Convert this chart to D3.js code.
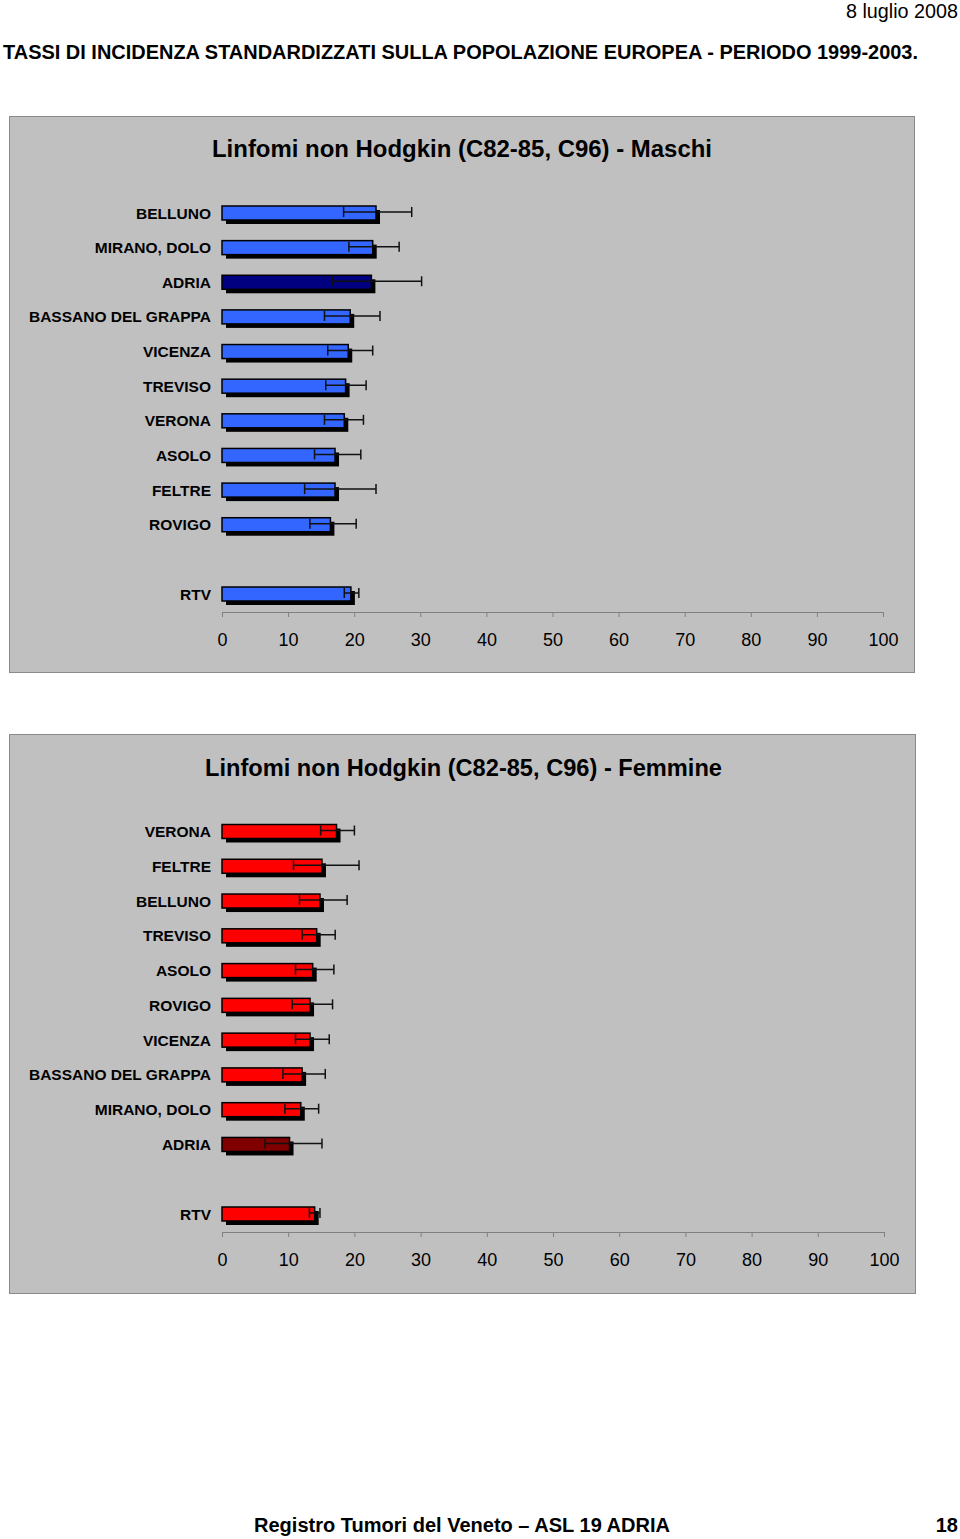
<!DOCTYPE html>
<html><head><meta charset="utf-8">
<script src="https://cdn.jsdelivr.net/npm/d3@7/dist/d3.min.js"></script>
<style>body{margin:0;background:#fff}svg{display:block}</style>
</head><body>
<script>
// ---- data ----
const maleCats = ["BELLUNO","MIRANO, DOLO","ADRIA","BASSANO DEL GRAPPA","VICENZA","TREVISO","VERONA","ASOLO","FELTRE","ROVIGO","RTV"];
const maleVals = [23.3,22.8,22.6,19.4,19.1,18.7,18.5,17.1,17.1,16.4,19.5];
const maleLow  = [18.4,19.2,16.7,15.5,16.0,15.7,15.5,14.0,12.5,13.3,18.5];
const maleHigh = [28.7,26.8,30.2,23.9,22.8,21.8,21.4,21.0,23.3,20.3,20.7];

const femCats = ["VERONA","FELTRE","BELLUNO","TREVISO","ASOLO","ROVIGO","VICENZA","BASSANO DEL GRAPPA","MIRANO, DOLO","ADRIA","RTV"];
const femVals = [17.3,15.1,14.8,14.3,13.7,13.3,13.3,12.1,11.9,10.2,14.0];
const femLow  = [14.9,10.8,11.7,12.1,11.1,10.6,11.1,9.2,9.5,6.5,13.2];
const femHigh = [20.0,20.7,18.9,17.1,16.9,16.7,16.2,15.6,14.6,15.1,14.8];

const tickValues = [0,10,20,30,40,50,60,70,80,90,100];
const highlight = "ADRIA";

const W = 960, H = 1539;
const svg = d3.select("body").append("svg").attr("width", W).attr("height", H)
  .style("font-family", "'Liberation Sans', Arial, sans-serif");

// page header
svg.append("text").attr("x", 958).attr("y", 18).attr("text-anchor", "end")
  .attr("font-size", 19.5).attr("textLength", 112).attr("lengthAdjust", "spacingAndGlyphs")
  .text("8 luglio 2008");
svg.append("text").attr("x", 3).attr("y", 59)
  .attr("font-size", 20).attr("font-weight", "bold")
  .attr("textLength", 915).attr("lengthAdjust", "spacingAndGlyphs")
  .text("TASSI DI INCIDENZA STANDARDIZZATI SULLA POPOLAZIONE EUROPEA - PERIODO 1999-2003.");

// footer
svg.append("text").attr("x", 254).attr("y", 1532)
  .attr("font-size", 20).attr("font-weight", "bold")
  .attr("textLength", 416).attr("lengthAdjust", "spacingAndGlyphs")
  .text("Registro Tumori del Veneto – ASL 19 ADRIA");
svg.append("text").attr("x", 958).attr("y", 1532).attr("text-anchor", "end")
  .attr("font-size", 20).attr("font-weight", "bold").text("18");

function drawChart(cfg) {
  const g = svg.append("g");
  g.append("rect").attr("x", cfg.panel[0] + 0.5).attr("y", cfg.panel[1] + 0.5)
    .attr("width", cfg.panel[2]).attr("height", cfg.panel[3])
    .attr("fill", "#c0c0c0").attr("stroke", "#8a8a8a").attr("stroke-width", 1);

  g.append("text").attr("x", cfg.titleX).attr("y", cfg.titleY)
    .attr("font-size", 23.5).attr("font-weight", "bold")
    .attr("textLength", cfg.titleLen).attr("lengthAdjust", "spacingAndGlyphs")
    .text(cfg.title);

  const x = d3.scaleLinear().domain([0, 100]).range([222, cfg.x100]);
  const domain = cfg.cats.slice(0, cfg.cats.length - 1).concat([" ", cfg.cats[cfg.cats.length - 1]]);
  const y = d3.scalePoint().domain(domain).range([cfg.yFirst, cfg.yLast]);

  const bh = 14, off = 4;
  const rows = cfg.cats.map((c, i) => ({c, v: cfg.vals[i], lo: cfg.low[i], hi: cfg.high[i]}));

  // labels
  g.selectAll(".lab").data(rows).join("text")
    .attr("x", 211).attr("y", d => y(d.c) + 5.5).attr("text-anchor", "end")
    .attr("font-size", 15.5).attr("font-weight", "bold").text(d => d.c);

  // shadows
  g.selectAll(".sh").data(rows).join("rect")
    .attr("x", x(0) + off).attr("y", d => y(d.c) - bh / 2 + off)
    .attr("width", d => x(d.v) - x(0)).attr("height", bh).attr("fill", "#000");
  // bars
  g.selectAll(".bar").data(rows).join("rect")
    .attr("x", x(0)).attr("y", d => y(d.c) - bh / 2)
    .attr("width", d => x(d.v) - x(0)).attr("height", bh)
    .attr("fill", d => d.c === highlight ? cfg.dark : cfg.color)
    .attr("stroke", "#000").attr("stroke-width", 1.5);

  // error bars
  const eb = g.selectAll(".eb").data(rows).join("g").attr("stroke", "#111").attr("stroke-width", 1.5);
  eb.append("line").attr("x1", d => x(d.lo)).attr("x2", d => x(d.hi))
    .attr("y1", d => y(d.c) - 1).attr("y2", d => y(d.c) - 1);
  eb.append("line").attr("x1", d => x(d.lo)).attr("x2", d => x(d.lo))
    .attr("y1", d => y(d.c) - 6).attr("y2", d => y(d.c) + 4);
  eb.append("line").attr("x1", d => x(d.hi)).attr("x2", d => x(d.hi))
    .attr("y1", d => y(d.c) - 6).attr("y2", d => y(d.c) + 4);

  // axis
  const ax = g.append("g").attr("transform", `translate(0,${cfg.axisY})`)
    .call(d3.axisBottom(x).tickValues(tickValues).tickSize(5).tickSizeOuter(0).tickFormat(d3.format("d")));
  ax.select(".domain").attr("stroke", "#808080");
  ax.selectAll(".tick line").attr("stroke", "#808080");
  ax.selectAll(".tick text").attr("font-size", 18).attr("font-family", "'Liberation Sans', Arial, sans-serif")
    .attr("fill", "#000").attr("dy", 0).attr("y", 34);
}

drawChart({
  panel: [9, 116, 905, 556], title: "Linfomi non Hodgkin (C82-85, C96) -  Maschi",
  titleX: 212, titleY: 157, titleLen: 500, x100: 883,
  cats: maleCats, vals: maleVals, low: maleLow, high: maleHigh,
  yFirst: 213, yLast: 594, axisY: 612, color: "#3366ff", dark: "#000080"
});
drawChart({
  panel: [9, 734, 906, 559], title: "Linfomi non Hodgkin (C82-85, C96) - Femmine",
  titleX: 205, titleY: 776, titleLen: 517, x100: 884,
  cats: femCats, vals: femVals, low: femLow, high: femHigh,
  yFirst: 831.5, yLast: 1214, axisY: 1232, color: "#ff0000", dark: "#800000"
});
</script>
</body></html>
